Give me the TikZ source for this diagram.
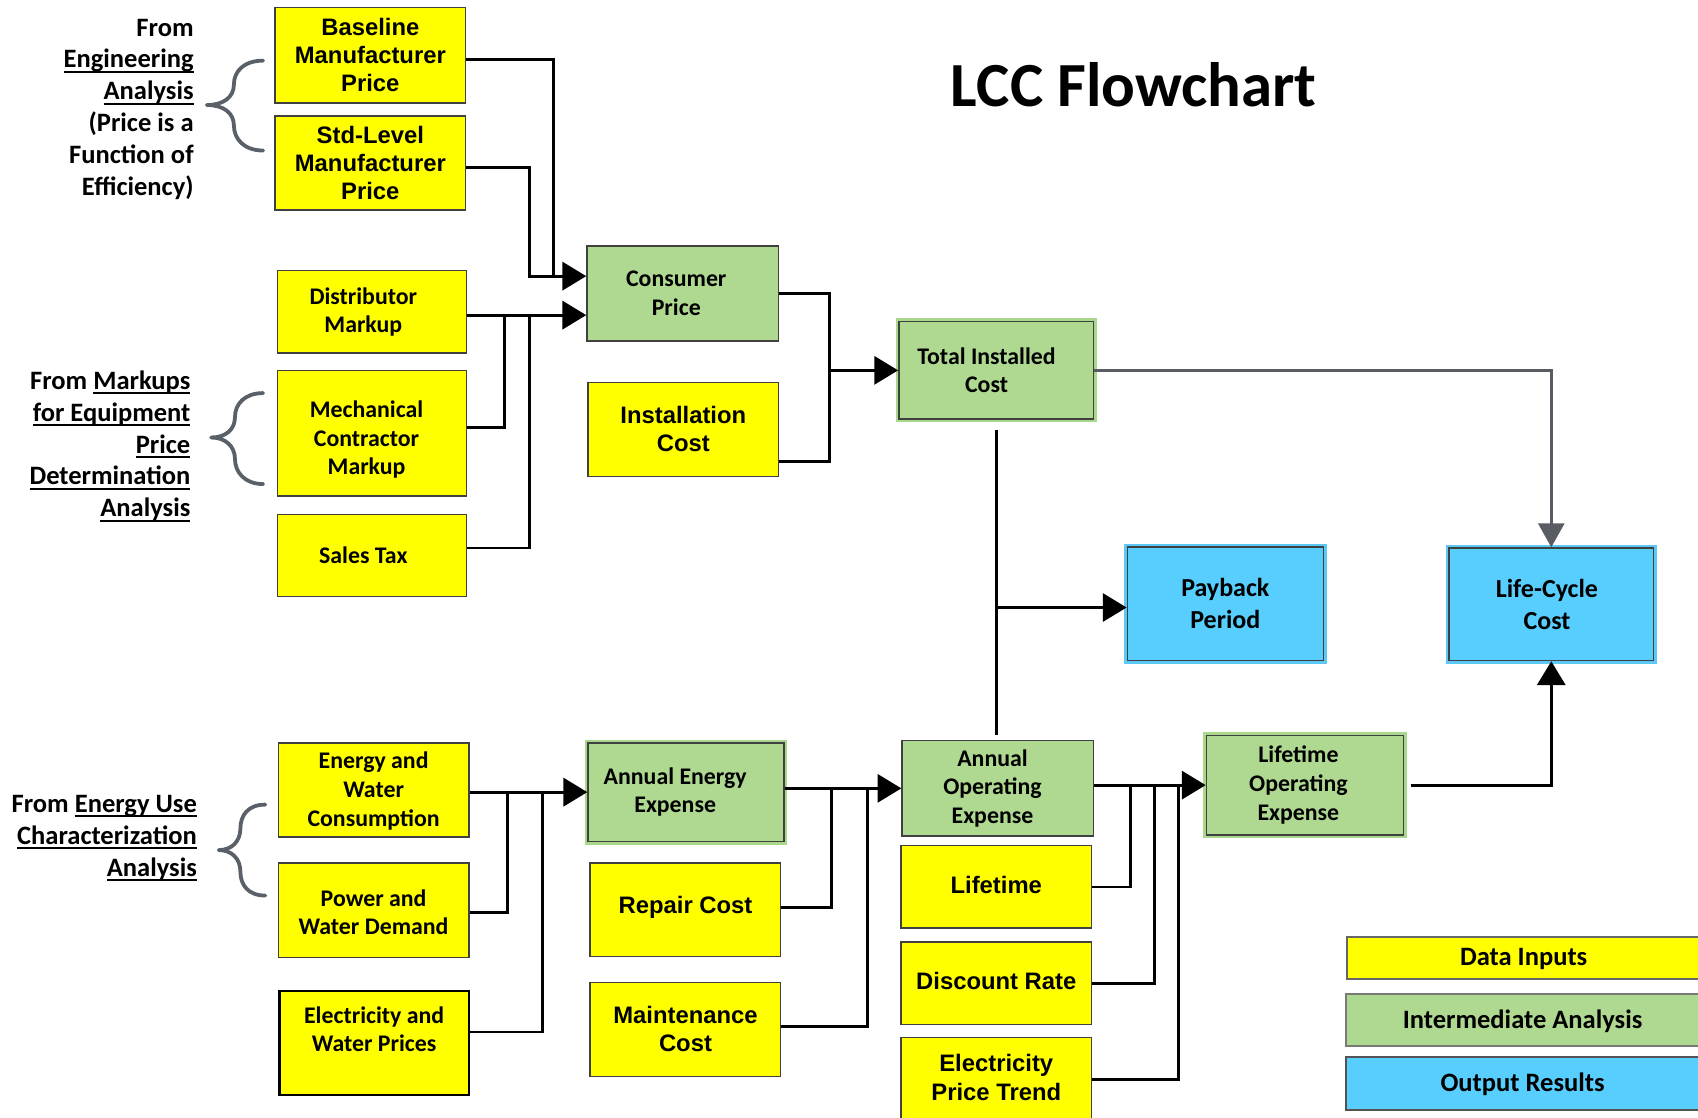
\documentclass[tikz,border=0pt]{standalone}
\usepackage{fontspec}
\setmainfont{Carlito}
\newfontfamily\arlfont{Liberation Sans}
\newfontfamily\calfont{Carlito}
\usetikzlibrary{arrows.meta,fit}

\definecolor{inyel}{HTML}{FFFF00}
\definecolor{midgrn}{HTML}{AFD991}
\definecolor{halogrn}{HTML}{A9D78C}
\definecolor{outblu}{HTML}{57CEFE}
\definecolor{haloblu}{HTML}{5CC9F4}
\definecolor{edge}{HTML}{404040}
\definecolor{bracegray}{HTML}{596068}
\definecolor{wiregray}{HTML}{595D63}

% thick underline used in the source notes
\newcommand\undl[1]{\setbox0\hbox{#1}\rlap{\rule[-4.5pt]{\wd0}{1.8pt}}\box0}

\tikzset{
  box/.style={rectangle, inner sep=0pt, draw=edge, line width=1.3pt},
  yb/.style={box, fill=inyel},
  gb/.style={box, fill=midgrn},
  bb/.style={box, fill=outblu},
  halo/.style={preaction={draw=#1, line width=6pt}},
  ftA/.style={font=\arlfont\bfseries\fontsize{22}{26}\selectfont, align=center, inner sep=0pt},
  ftC/.style={font=\calfont\bfseries\fontsize{22}{26.5}\selectfont, align=center, inner sep=0pt},
  ftP/.style={font=\calfont\bfseries\fontsize{24}{30}\selectfont, align=center, inner sep=0pt},
  ftL/.style={font=\calfont\bfseries\fontsize{24.5}{28}\selectfont, inner sep=0pt},
  ann/.style={font=\calfont\bfseries\fontsize{24.5}{29.5}\selectfont, align=right, inner sep=0pt},
  brc/.style={draw=bracegray, line width=3.5pt, line cap=round, line join=round},
  wire/.style={line width=2.6pt, draw=black},
  arr/.style={wire, -{Triangle[length=22pt,width=26pt]}},
  garr/.style={line width=2.4pt, draw=wiregray, -{Triangle[length=22pt,width=24pt]}},
}

\begin{document}
\begin{tikzpicture}[x=1pt, y=-1pt]
\useasboundingbox (0,0) rectangle (1568,1032);
\fill[white] (0,0) rectangle (1568,1032);

% title
\node[font=\calfont\bfseries\fontsize{58}{60}\selectfont, inner sep=0pt] (title) at (1047,78) {LCC Flowchart};

% source notes and braces
\node[ann, anchor=east] (note1) at (179,101) {From\\\undl{Engineering}\\\undl{Analysis}\\(Price is a\\Function of\\Efficiency)};
\node[ann, anchor=east] (note2) at (176,412) {From \undl{Markups}\\\undl{for Equipment}\\\undl{Price}\\\undl{Determination}\\\undl{Analysis}};
\node[ann, anchor=east] (note3) at (182,774) {From \undl{Energy Use}\\\undl{Characterization}\\\undl{Analysis}};

\draw[brc] (243,56) .. controls (225,56) and (216,66) .. (216,78)
  .. controls (216,90) and (206,97) .. (191,97)
  .. controls (206,97) and (216,104) .. (216,116)
  .. controls (216,128) and (225,139) .. (243,139);
\draw[brc] (243,363) .. controls (226,363) and (217,373) .. (217,385)
  .. controls (217,397) and (208,404) .. (195,404)
  .. controls (208,404) and (217,412) .. (217,424)
  .. controls (217,436) and (226,447) .. (243,447);
\draw[brc] (245,743) .. controls (229,743) and (222,753) .. (222,765)
  .. controls (222,777) and (214,785) .. (202,785)
  .. controls (214,785) and (222,793) .. (222,805)
  .. controls (222,817) and (229,827) .. (245,827);

% equipment price inputs
\node[yb, fit={(254,7) (430,95)}] (bmp) {};
\node[ftA] (bmp-t) at (bmp) {Baseline\\Manufacturer\\Price};
\node[yb, fit={(254,107) (430,194)}] (slp) {};
\node[ftA] (slp-t) at (slp) {Std-Level\\Manufacturer\\Price};
\node[yb, fit={(256,250) (431,326)}] (dm) {};
\node[ftC, xshift=-8pt] (dm-t) at (dm) {Distributor\\Markup};
\node[yb, fit={(256,342) (431,458)}] (mcm) {};
\node[ftC, xshift=-5pt, yshift=-6pt] (mcm-t) at (mcm) {Mechanical\\Contractor\\Markup};
\node[yb, fit={(256,475) (431,551)}] (st) {};
\node[ftC, xshift=-8pt] (st-t) at (st) {Sales Tax};

% installed cost
\node[gb, fit={(542,227) (719,315)}] (cp) {};
\node[ftC, xshift=-6pt] (cp-t) at (cp) {Consumer\\Price};
\node[yb, fit={(543,353) (719,440)}] (ic) {};
\node[ftA] (ic-t) at (ic) {Installation\\Cost};
\node[gb, halo=halogrn, fit={(830,297) (1010,387)}] (tic) {};
\node[ftC, xshift=-9pt] (tic-t) at (tic) {Total Installed\\Cost};

% outputs
\node[bb, halo=haloblu, fit={(1041,505) (1222,610)}] (pb) {};
\node[ftP] (pb-t) at (pb) {Payback\\Period};
\node[bb, halo=haloblu, fit={(1338,506) (1527,610)}] (lcc) {};
\node[ftP, xshift=-4pt] (lcc-t) at (lcc) {Life-Cycle\\Cost};

% energy inputs
\node[yb, fit={(257,686) (433,773)}] (ewc) {};
\node[ftC, yshift=-1pt] (ewc-t) at (ewc) {Energy and\\Water\\Consumption};
\node[yb, fit={(257,797) (433,884)}] (pwd) {};
\node[ftC, yshift=-2pt] (pwd-t) at (pwd) {Power and\\Water Demand};
\node[yb, draw=black, line width=2.4pt, fit={(258,915) (433,1011)}] (ewp) {};
\node[ftC, yshift=12.5pt] (ewp-t) at (ewp) {Electricity and\\Water Prices};

% operating expense
\node[gb, halo=halogrn, fit={(543,686) (724,777)}] (aee) {};
\node[ftC, xshift=-10pt] (aee-t) at (aee) {Annual Energy\\Expense};
\node[yb, fit={(545,797) (721,883)}] (rc) {};
\node[ftA, yshift=2pt] (rc-t) at (rc) {Repair Cost};
\node[yb, fit={(545,907) (721,994)}] (mc) {};
\node[ftA] (mc-t) at (mc) {Maintenance\\Cost};
\node[gb, fit={(833,684) (1010,772)}] (aoe) {};
\node[ftC, xshift=-5pt] (aoe-t) at (aoe) {Annual\\Operating\\Expense};
\node[yb, fit={(832,781) (1008,857)}] (lt) {};
\node[ftA, yshift=2pt] (lt-t) at (lt) {Lifetime};
\node[yb, fit={(832,870) (1008,946)}] (dr) {};
\node[ftA, yshift=2pt] (dr-t) at (dr) {Discount Rate};
\node[yb, fit={(832,958) (1008,1036)}] (ept) {};
\node[ftA, yshift=2pt] (ept-t) at (ept) {Electricity\\Price Trend};
\node[gb, halo=halogrn, fit={(1114,679) (1296,771)}] (loe) {};
\node[ftC, xshift=-6pt] (loe-t) at (loe) {Lifetime\\Operating\\Expense};

% legend
\node[box, fill=inyel, draw=edge!80, line width=1.8pt, fit={(1244,865) (1572,904)}] (lg1) {};
\node[ftL] (lg1-t) at (1407,886) {Data Inputs};
\node[box, fill=midgrn, draw=edge!70, line width=2.2pt, fit={(1243,918) (1572,966)}] (lg2) {};
\node[ftL] (lg2-t) at (1406,943) {Intermediate Analysis};
\node[box, fill=outblu, draw=edge!90, line width=2.2pt, fit={(1243,976) (1572,1025)}] (lg3) {};
\node[ftL] (lg3-t) at (1406,1001) {Output Results};

% consumer price wiring
\coordinate (cpIn1) at (cp.west |- 0,255);
\coordinate (cpIn2) at (cp.west |- 0,291);
\draw[wire] ([yshift=-4pt]bmp.east) -| (511,255);
\draw[arr] ([yshift=-4.5pt]slp.east) -| (489,255) -- (cpIn1);
\draw[arr] (dm.east |- cpIn2) -- (cpIn2);
\draw[wire] ([yshift=5pt]mcm.east) -| (466,291);
\draw[wire] ([yshift=7pt]st.east) -| (489,291);

% total installed cost wiring
\coordinate (vTop) at ([yshift=-9pt]tic.south);
\coordinate (vEnd) at ([yshift=5pt]aoe.north);
\draw[wire] (cp.east) -| (766,426) -- (ic.east |- 0,426);
\draw[arr] (766,0 |- tic.west) -- (tic.west);
\draw[garr] (tic.east) -| (lcc.north);
\draw[wire] (vTop) -- (vEnd -| vTop);
\draw[arr] (tic.south |- 0,561) -- (pb.west |- 0,561);

% energy expense wiring
\draw[arr] (ewc.east |- aee.west) -- (aee.west);
\draw[wire] ([yshift=-2.5pt]pwd.east) -| (469,0 |- aee.west);
\draw[wire] ([yshift=10pt]ewp.east) -| (501,0 |- aee.west);

% operating expense wiring
\draw[arr] (aee.east |- aoe.west) -- (aoe.west);
\draw[wire] ([yshift=2pt]rc.east) -| (768,0 |- aoe.west);
\draw[wire] ([yshift=2.5pt]mc.east) -| (801,0 |- aoe.west);
\draw[arr] (aoe.east |- loe.west) -- (loe.west);
\draw[wire] (lt.east) -| (1044,0 |- loe.west);
\draw[wire] (dr.east) -| (1066,0 |- loe.west);
\draw[wire] (ept.east) -| (1088,0 |- loe.west);
\draw[arr] ([xshift=6pt]loe.east) -| (lcc.south);
\end{tikzpicture}
\end{document}
